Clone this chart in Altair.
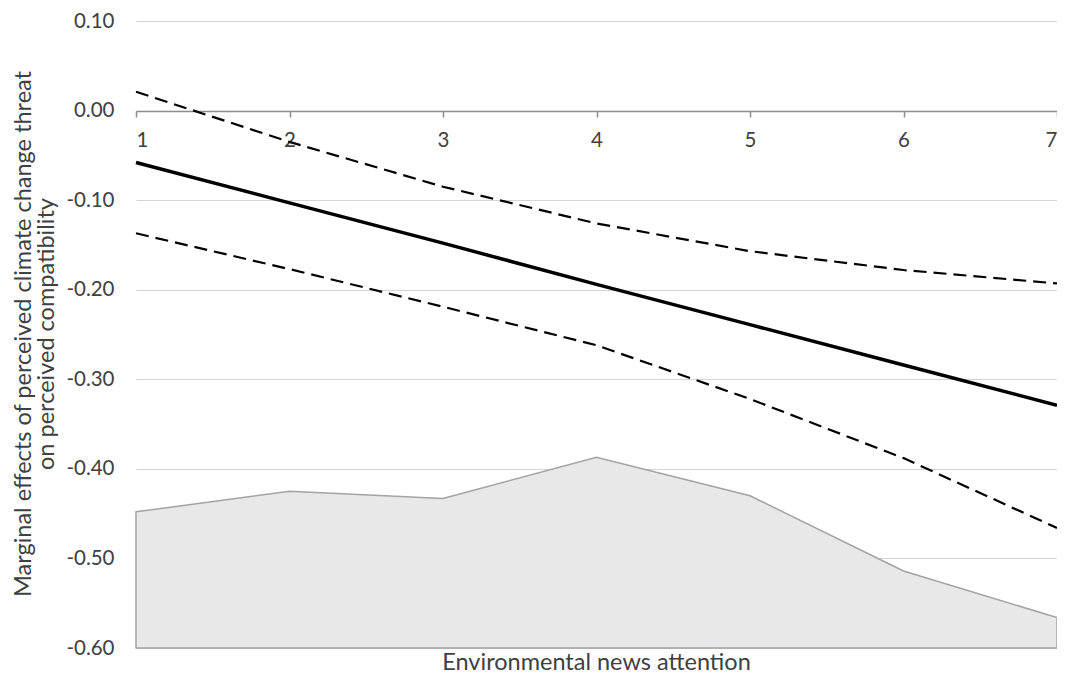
import altair as alt
import pandas as pd

attention = [1, 2, 3, 4, 5, 6, 7]
effect = [-0.058, -0.103, -0.148, -0.194, -0.239, -0.284, -0.329]
upper = [0.021, -0.035, -0.085, -0.126, -0.157, -0.178, -0.193]
lower = [-0.137, -0.177, -0.219, -0.262, -0.322, -0.388, -0.466]
distribution = [-0.448, -0.425, -0.433, -0.387, -0.430, -0.514, -0.566]
y_ticks = [-0.6, -0.5, -0.4, -0.3, -0.2, -0.1, 0.0, 0.1]

df = pd.DataFrame({
    "attention": attention,
    "effect": effect,
    "upper": upper,
    "lower": lower,
    "dist": distribution,
})

FONT = "Lato"
TEXT = "#404040"
LFS = 20.5
TFS = 23.5

xs = alt.Scale(domain=[1, 7], nice=False, zero=False)
ys = alt.Scale(domain=[-0.6, 0.1], nice=False, zero=False)

x_enc = alt.X(
    "attention:Q",
    scale=xs,
    axis=alt.Axis(
        values=attention, format="d", offset=-537, grid=False,
        domainColor="#8c8c8c", domainWidth=1.5, tickColor="#8c8c8c",
        tickWidth=1.5, tickSize=6, labelPadding=13, title=None,
        labelFont=FONT, labelFontSize=LFS, labelColor=TEXT,
    ),
)

base = alt.Chart(df)

area = base.mark_area(fill="#e8e8e8", stroke="#a3a3a3", strokeWidth=1.5, opacity=1).encode(
    x=x_enc,
    y=alt.Y(
        "dist:Q", scale=ys,
        axis=alt.Axis(
            values=y_ticks,
            labelExpr="replace(format(datum.value, '.2f'), '\u2212', '-')",
            domain=False, ticks=False, labelPadding=22,
            gridColor="#d4d4d4", gridWidth=1.2,
            labelFont=FONT, labelFontSize=LFS, labelColor=TEXT,
            title=["Marginal effects of perceived climate change threat", "on perceived compatibility"],
            titleFont=FONT, titleFontSize=TFS, titleFontWeight="normal", titleColor=TEXT,
            titleAngle=-90, titleBaseline="bottom", titleAlign="center",
            titleX=-101, titleY=312.5, titleLineHeight=23.5,
        ),
    ),
    y2=alt.datum(-0.6),
)

upper_line = base.mark_line(color="black", strokeWidth=2.2, strokeDash=[13, 7]).encode(
    x=alt.X("attention:Q", scale=xs), y=alt.Y("upper:Q", scale=ys)
)
lower_line = base.mark_line(color="black", strokeWidth=2.2, strokeDash=[13, 7]).encode(
    x=alt.X("attention:Q", scale=xs), y=alt.Y("lower:Q", scale=ys)
)
main_line = base.mark_line(color="black", strokeWidth=3.5).encode(
    x=alt.X("attention:Q", scale=xs), y=alt.Y("effect:Q", scale=ys)
)

chart = (
    alt.layer(area, upper_line, lower_line, main_line)
    .properties(
        width=921,
        height=627,
        autosize=alt.AutoSizeParams(type="none"),
        padding={"left": 128, "top": 13, "right": 0, "bottom": 25},
        title=alt.TitleParams(
            "Environmental news attention", orient="bottom", anchor="middle",
            font=FONT, fontSize=TFS, fontWeight="normal", color=TEXT,
            baseline="alphabetic", offset=11,
        ),
    )
    .configure_view(stroke=None)
)

chart.save("out.html", embed_options={"renderer": "svg", "actions": False})
